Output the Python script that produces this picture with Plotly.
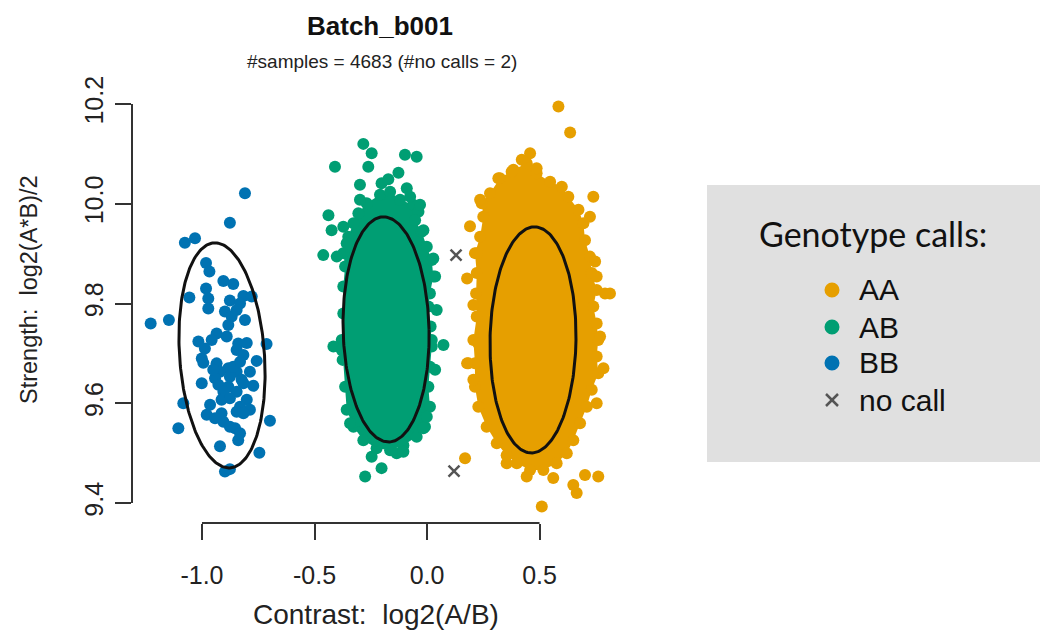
import numpy as np
import plotly.graph_objects as go

W, H = 1040, 630

AA_COL = "#E69F00"
AB_COL = "#009E73"
BB_COL = "#0072B2"
NC_COL = "#555555"

# ---------------- data ----------------
bb_x = [-0.809, -0.876, -1.031, -1.076, -0.982, -0.967, -0.905, -0.861, -0.982, -1.056,
        -0.972, -0.816, -0.779, -0.876, -0.831, -0.972, -0.898, -0.846, -0.868, -0.809,
        -1.228, -1.147, -0.883, -0.935, -0.890, -1.016, -0.957, -0.839, -0.801, -0.713,
        -0.987, -0.846, -1.001, -0.816, -0.994, -0.935, -0.757, -0.883, -0.920, -0.846,
        -0.787, -0.942, -0.876, -0.824, -1.001, -0.927, -0.883, -0.772, -0.905, -0.846,
        -0.913, -0.876, -0.801, -1.083, -0.964, -0.831, -0.787, -0.979, -0.913, -0.846,
        -0.942, -0.905, -0.698, -1.105, -0.853, -0.831, -0.839, -0.920, -0.745, -0.898,
        -0.876, -0.816, -0.876, -0.861, -0.816, -0.950, -0.831]
bb_y = [10.021, 9.962, 9.931, 9.922, 9.881, 9.864, 9.845, 9.839, 9.830, 9.812,
        9.810, 9.815, 9.814, 9.806, 9.800, 9.790, 9.784, 9.787, 9.774, 9.767,
        9.760, 9.767, 9.757, 9.740, 9.734, 9.724, 9.727, 9.720, 9.721, 9.719,
        9.710, 9.707, 9.690, 9.697, 9.681, 9.680, 9.685, 9.670, 9.663, 9.663,
        9.663, 9.650, 9.653, 9.647, 9.640, 9.637, 9.633, 9.635, 9.623, 9.623,
        9.607, 9.610, 9.607, 9.600, 9.597, 9.593, 9.587, 9.577, 9.580, 9.583,
        9.570, 9.563, 9.565, 9.550, 9.550, 9.540, 9.526, 9.514, 9.501, 9.463,
        9.468, 9.580, 9.553, 9.673, 9.640, 9.667, 9.683]

# dense core of the AB cloud (outline of the solid area)
ab_core_x = [-0.268, -0.209, -0.164, -0.120, -0.061, -0.038, -0.053, -0.024, -0.001, 0.021,
             0.028, 0.013, 0.006, 0.016, 0.021, 0.013, 0.006, 0.013, -0.009, -0.046,
             -0.105, -0.164, -0.224, -0.283, -0.327, -0.357, -0.364, -0.375, -0.379, -0.372,
             -0.372, -0.364, -0.372, -0.350, -0.327, -0.305]
ab_core_y = [10.001, 10.018, 10.024, 10.008, 9.998, 9.984, 9.967, 9.944, 9.914, 9.887,
             9.854, 9.820, 9.794, 9.754, 9.714, 9.673, 9.633, 9.593, 9.553, 9.533,
             9.516, 9.506, 9.510, 9.526, 9.553, 9.587, 9.633, 9.687, 9.727, 9.780,
             9.834, 9.874, 9.901, 9.934, 9.961, 9.981]
# scattered AB points outside the core
ab_x = [-0.283, -0.246, -0.098, -0.046, -0.409, -0.261, -0.127, -0.298, -0.202, -0.172,
        -0.090, -0.031, -0.438, -0.372, -0.424, -0.016, -0.461, -0.401, -0.342, 0.028,
        0.036, 0.043, -0.416, -0.379, 0.073, 0.036, -0.320, -0.016, -0.246, -0.202,
        -0.135, -0.105, -0.275, -0.224, -0.357, 0.021, -0.298, -0.075, -0.342, -0.001]
ab_y = [10.120, 10.101, 10.098, 10.094, 10.074, 10.074, 10.062, 10.038, 10.041, 10.049,
        10.031, 9.998, 9.977, 9.954, 9.947, 9.947, 9.897, 9.894, 9.914, 9.890,
        9.854, 9.787, 9.714, 9.707, 9.717, 9.667, 9.563, 9.550, 9.493, 9.470,
        9.500, 9.503, 9.453, 9.526, 9.921, 9.727, 10.008, 10.014, 9.560, 9.573]

# dense core of the AA cloud (outline of the solid area)
aa_core_x = [0.324, 0.384, 0.443, 0.487, 0.547, 0.599, 0.628, 0.673, 0.695, 0.702,
             0.724, 0.732, 0.754, 0.739, 0.754, 0.761, 0.754, 0.761, 0.732, 0.710,
             0.680, 0.650, 0.621, 0.576, 0.517, 0.458, 0.399, 0.354, 0.310, 0.265,
             0.228, 0.213, 0.213, 0.206, 0.221, 0.218, 0.221, 0.213, 0.236, 0.250,
             0.243, 0.280]
aa_core_y = [10.051, 10.068, 10.081, 10.061, 10.044, 10.034, 10.014, 9.988, 9.961, 9.927,
             9.894, 9.861, 9.827, 9.794, 9.760, 9.727, 9.694, 9.660, 9.627, 9.593,
             9.560, 9.526, 9.500, 9.480, 9.466, 9.466, 9.480, 9.496, 9.520, 9.553,
             9.593, 9.633, 9.680, 9.727, 9.774, 9.820, 9.861, 9.901, 9.934, 9.974,
             10.001, 10.021]
# scattered AA points outside the core
aa_x = [0.584, 0.636, 0.458, 0.421, 0.487, 0.376, 0.317, 0.739, 0.191, 0.221,
        0.747, 0.813, 0.791, 0.206, 0.769, 0.184, 0.784, 0.206, 0.169, 0.702,
        0.761, 0.650, 0.665, 0.510, 0.354, 0.443, 0.561, 0.724, 0.236, 0.754,
        0.228, 0.754, 0.178, 0.178]
aa_y = [10.195, 10.143, 10.101, 10.088, 10.071, 10.064, 10.051, 10.014, 9.955, 9.901,
        9.884, 9.820, 9.820, 9.797, 9.734, 9.680, 9.670, 9.647, 9.490, 9.456,
        9.453, 9.436, 9.420, 9.393, 9.480, 9.453, 9.450, 9.974, 10.008, 9.854,
        9.720, 9.600, 9.680, 9.850]

nc_x = [0.129, 0.120]
nc_y = [9.897, 9.464]

# cluster ellipses: centre x, centre y, x radius, y radius, shear
ell_names = ["BB", "AB", "AA"]
ell_cx = [-0.911, -0.182, 0.471]
ell_cy = [9.696, 9.748, 9.727]
ell_rx = [0.189, 0.191, 0.191]
ell_ry = [0.2256, 0.2256, 0.2266]
ell_sx = [-0.031, -0.011, 0.007]

x_ticks = [-1.0, -0.5, 0.0, 0.5]
x_tick_text = ["-1.0", "-0.5", "0.0", "0.5"]
y_ticks = [9.4, 9.6, 9.8, 10.0, 10.2]
y_tick_text = ["9.4", "9.6", "9.8", "10.0", "10.2"]

legend_labels = ["AA", "AB", "BB", "no call"]
legend_colors = [AA_COL, AB_COL, BB_COL, NC_COL]

# ---------------- figure ----------------
def pxx(v):
    return v / W


def pxy(v):
    return 1 - v / H


MS = 12
fig = go.Figure()


def add_core(xs, ys, col):
    fig.add_trace(go.Scatter(x=xs, y=ys, fill="toself", fillcolor=col,
                             mode="lines+markers", line=dict(width=0, color=col),
                             marker=dict(size=MS, color=col), hoverinfo="skip",
                             showlegend=False))


def add_pts(xs, ys, col):
    fig.add_trace(go.Scatter(x=xs, y=ys, mode="markers",
                             marker=dict(size=MS, color=col), showlegend=False))


add_core(ab_core_x, ab_core_y, AB_COL)
add_pts(ab_x, ab_y, AB_COL)
add_pts(bb_x, bb_y, BB_COL)
add_core(aa_core_x, aa_core_y, AA_COL)
add_pts(aa_x, aa_y, AA_COL)

t = np.linspace(0, 2 * np.pi, 240)
for cx, cy, rx, ry, sx in zip(ell_cx, ell_cy, ell_rx, ell_ry, ell_sx):
    fig.add_trace(go.Scatter(x=cx + rx * np.cos(t) + sx * np.sin(t),
                             y=cy + ry * np.sin(t), mode="lines",
                             line=dict(color="#111111", width=3), showlegend=False,
                             hoverinfo="skip"))

fig.add_trace(go.Scatter(x=nc_x, y=nc_y, mode="markers",
                         marker=dict(symbol="x-thin", size=11, color=NC_COL,
                                     line=dict(width=2.5, color=NC_COL)),
                         showlegend=False))

FONT = "Liberation Sans, Arial, Helvetica, sans-serif"
AX = "#333333"

fig.update_layout(
    width=W, height=H, autosize=False,
    margin=dict(l=0, r=0, t=0, b=0, pad=0, autoexpand=False),
    paper_bgcolor="white", plot_bgcolor="white",
    font=dict(family=FONT, color="#222222"),
    showlegend=False,
    xaxis=dict(domain=[132 / W, 630 / W], range=[-1.311, 0.902], automargin=False,
               tickvals=x_ticks, ticktext=x_tick_text, ticks="outside",
               ticklen=16, tickwidth=2, tickcolor=AX, showgrid=False,
               zeroline=False, showline=False, tickfont=dict(size=25, color="#222222"),
               ticklabelstandoff=14),
    yaxis=dict(domain=[1 - 523 / H, 1 - 93 / H], range=[9.36, 10.222], automargin=False,
               tickvals=y_ticks, ticktext=y_tick_text, ticks="outside",
               ticklen=16, tickwidth=2, tickcolor=AX, showgrid=False,
               zeroline=False, showline=False, tickangle=-90,
               tickfont=dict(size=25, color="#222222"), ticklabelstandoff=2),
)

shapes = [
    dict(type="line", xref="x", yref="paper", x0=x_ticks[0], x1=x_ticks[-1],
         y0=1 - 523 / H, y1=1 - 523 / H, line=dict(color=AX, width=2)),
    dict(type="line", xref="paper", yref="y", x0=132 / W, x1=132 / W,
         y0=y_ticks[0], y1=y_ticks[-1], line=dict(color=AX, width=2)),
    dict(type="rect", xref="paper", yref="paper", x0=pxx(707), x1=pxx(1040),
         y0=pxy(462), y1=pxy(185), fillcolor="#e0e0e0", line=dict(width=0),
         layer="below"),
]

annotations = [
    dict(text="<b>Batch_b001</b>", x=pxx(380), y=pxy(26), xref="paper", yref="paper",
         showarrow=False, font=dict(size=26, family=FONT, color="#111111"),
         xanchor="center", yanchor="middle"),
    dict(text="#samples = 4683 (#no calls = 2)", x=pxx(382), y=pxy(62), xref="paper",
         yref="paper", showarrow=False, font=dict(size=19, family=FONT, color="#222222"),
         xanchor="center", yanchor="middle"),
    dict(text="Contrast:  log2(A/B)", x=pxx(376), y=pxy(614), xref="paper", yref="paper",
         showarrow=False, font=dict(size=28, family=FONT, color="#222222"),
         xanchor="center", yanchor="middle"),
    dict(text="Strength:  log2(A*B)/2", x=pxx(29), y=pxy(290), xref="paper", yref="paper",
         showarrow=False, textangle=-90, font=dict(size=23.5, family=FONT, color="#222222"),
         xanchor="center", yanchor="middle"),
    dict(text="Genotype calls:", x=pxx(757), y=pxy(233), xref="paper", yref="paper",
         showarrow=False, font=dict(size=34, family="Lato, Open Sans, sans-serif",
                                    color="#111111"),
         xanchor="left", yanchor="middle"),
]

leg_y = [290, 327, 363, 400]
for lab, col, yy in zip(legend_labels, legend_colors, leg_y):
    annotations.append(dict(text=lab, x=pxx(857), y=pxy(yy), xref="paper", yref="paper",
                            showarrow=False, font=dict(size=30, family=FONT, color="#111111"),
                            xanchor="left", yanchor="middle"))
    if lab == "no call":
        d = 6
        shapes.append(dict(type="line", xref="paper", yref="paper",
                           x0=pxx(832 - d), x1=pxx(832 + d), y0=pxy(yy - d), y1=pxy(yy + d),
                           line=dict(color=col, width=2.5)))
        shapes.append(dict(type="line", xref="paper", yref="paper",
                           x0=pxx(832 - d), x1=pxx(832 + d), y0=pxy(yy + d), y1=pxy(yy - d),
                           line=dict(color=col, width=2.5)))
    else:
        r = 7.5
        shapes.append(dict(type="circle", xref="paper", yref="paper",
                           x0=pxx(832 - r), x1=pxx(832 + r), y0=pxy(yy + r), y1=pxy(yy - r),
                           fillcolor=col, line=dict(width=0)))

fig.update_layout(shapes=shapes, annotations=annotations)
fig.write_html("out.html")
